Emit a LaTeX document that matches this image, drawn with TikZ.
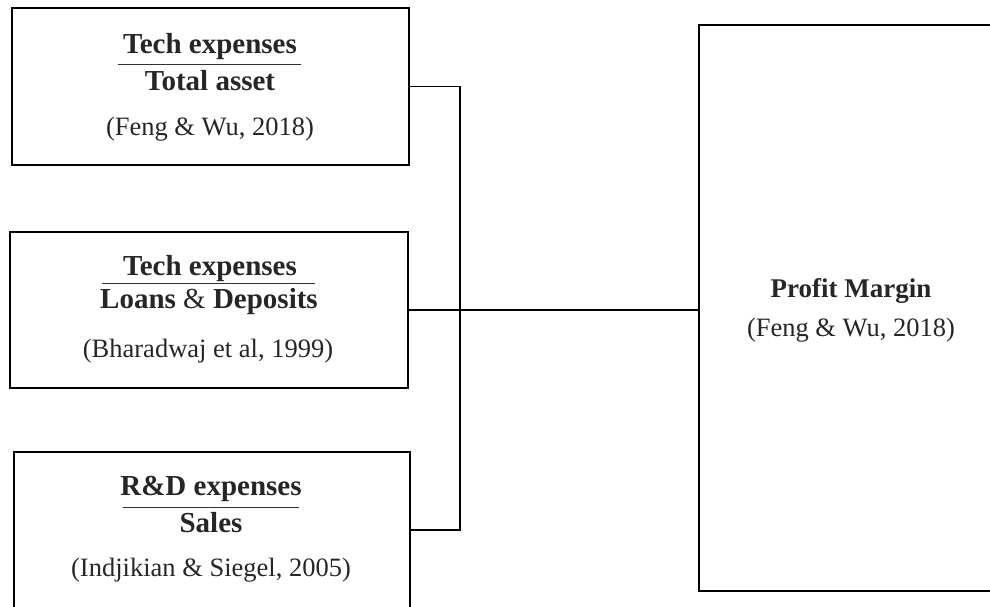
\documentclass[tikz,border=0pt]{standalone}
\usepackage{fontspec}
\setmainfont{Liberation Serif}
\begin{document}
\begin{tikzpicture}[x=1pt,y=-1pt,
  boxstyle/.style={draw=black,line width=1.8pt,rectangle,inner sep=0pt,anchor=north west},
  cite/.style={anchor=base,inner sep=0pt,font=\fontsize{26.5}{26.5}\selectfont,text=black!85},
  frac/.style={anchor=base,inner sep=0pt,font=\fontsize{29}{29}\selectfont\bfseries,text=black!85},
  barline/.style={line width=1pt,black!80},
  conn/.style={line width=1.8pt,black}]
\clip (0,0) rectangle (990,606);
% boxes
\node[boxstyle,minimum width=397pt,minimum height=157pt] (b1) at (11,7) {};
\node[boxstyle,minimum width=398pt,minimum height=156pt] (b2) at (9,231) {};
\node[boxstyle,minimum width=396pt,minimum height=156pt] (b3) at (13,451) {};
\node[boxstyle,minimum width=306pt,minimum height=566pt] (pm) at (698,24) {};
% box 1 text
\node[frac] (n1) at (210,53) {Tech expenses};
\draw[barline] (118,64) -- (301,64);
\node[frac] (d1) at (210,90) {Total asset};
\node[cite] (c1) at (210,135) {(Feng \& Wu, 2018)};
% box 2 text
\node[frac] (n2) at (210,275) {Tech expenses};
\draw[barline] (102,283) -- (315,283);
\node[frac] (d2) at (209,308) {Loans {\mdseries\&} Deposits};
\node[cite] (c2) at (208,357) {(Bharadwaj et al, 1999)};
% box 3 text
\node[frac] (n3) at (211,495) {R\&D expenses};
\draw[barline] (123,507) -- (299,507);
\node[frac] (d3) at (211,532) {Sales};
\node[cite] (c3) at (211,576) {(Indjikian \& Siegel, 2005)};
% profit margin
\node[frac,font=\fontsize{27}{27}\selectfont\bfseries] (t4) at (851,297) {Profit Margin};
\node[cite] (c4) at (851,336) {(Feng \& Wu, 2018)};
% connectors
\path (b2.east) ++(51,0) coordinate (j);
\draw[conn] (b1.east) -| (j);
\draw[conn] (b3.east) -| (j);
\draw[conn] (b2.east) -- (j);
\draw[conn] (j) -- (j -| pm.west);
\end{tikzpicture}
\end{document}
